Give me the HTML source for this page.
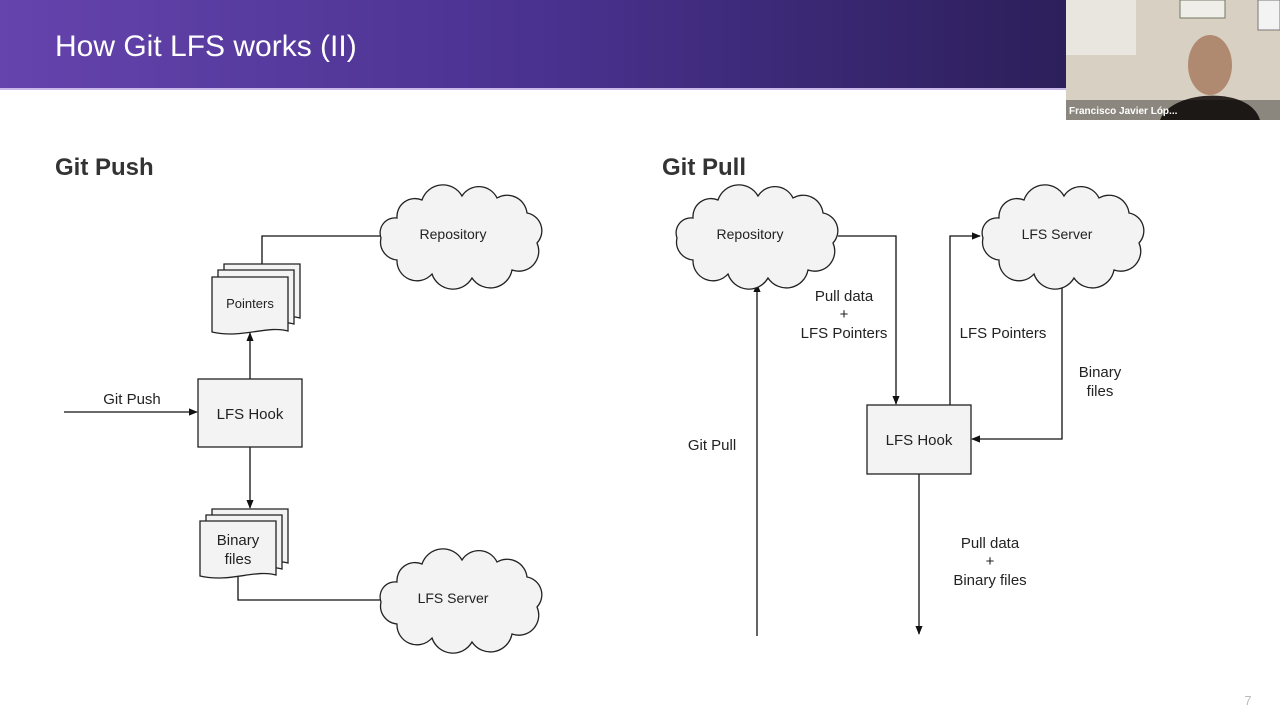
<!DOCTYPE html>
<html><head><meta charset="utf-8"><style>
html,body{margin:0;padding:0;width:1280px;height:720px;overflow:hidden;background:#fff;font-family:"Liberation Sans",sans-serif}
</style></head><body>
<svg width="1280" height="720" viewBox="0 0 1280 720" xmlns="http://www.w3.org/2000/svg" font-family="Liberation Sans, sans-serif">
<defs>
<linearGradient id="hg" x1="0" x2="1" y1="0" y2="0">
<stop offset="0" stop-color="#6544ad"/><stop offset="0.5" stop-color="#4a3290"/><stop offset="1" stop-color="#2c1f5a"/>
</linearGradient>
<marker id="ar" viewBox="0 0 10 10" refX="9" refY="5" markerWidth="7" markerHeight="7" orient="auto"><path d="M0,1 L10,5 L0,9 Z" fill="#111"/></marker>
<path id="cloud" d="M20,30 A18,18 0 0 1 45,12 A22,22 0 0 1 85,8 A20,20 0 0 1 120,10 A20,20 0 0 1 150,25 A18,18 0 0 1 160,55 A20,20 0 0 1 135,82 A22,22 0 0 1 95,90 A22,22 0 0 1 55,86 A20,20 0 0 1 20,72 A18,18 0 0 1 4,50 A15,15 0 0 1 20,30 Z" fill="#f3f3f3" stroke="#222" stroke-width="1.3"/>
<path id="doc" d="M0,0 H76 V54 C55,48 30,62 0,55 Z" fill="#f3f3f3" stroke="#222" stroke-width="1.3"/>
</defs>
<rect x="0" y="0" width="1066" height="89" fill="url(#hg)"/>
<rect x="0" y="88" width="1066" height="2" fill="#c9b8ea"/>
<text x="55" y="56" fill="#fff" font-size="30">How Git LFS works (II)</text>
<!-- webcam -->
<rect x="1066" y="0" width="214" height="120" fill="#d8d0c2"/>
<rect x="1066" y="0" width="70" height="55" fill="#e9e6df"/>
<rect x="1180" y="0" width="45" height="18" fill="#efeee8" stroke="#776" />
<rect x="1258" y="0" width="22" height="30" fill="#f3f3f3" stroke="#777"/>
<ellipse cx="1210" cy="65" rx="22" ry="30" fill="#b08a70"/>
<path d="M1160,120 C1170,90 1250,85 1260,120 Z" fill="#2a2522"/>
<rect x="1066" y="100" width="214" height="20" fill="rgba(0,0,0,0.35)"/>
<text x="1069" y="114" fill="#fff" font-size="10" font-weight="bold">Francisco Javier Lóp...</text>
<text x="55" y="175" fill="#333" font-size="24" font-weight="bold">Git Push</text>
<text x="662" y="175" fill="#333" font-size="24" font-weight="bold">Git Pull</text>
<g stroke="#111" stroke-width="1.3" fill="none">
<!-- left -->
<polyline points="262,264 262,236 380,236"/>
<line x1="250" y1="379" x2="250" y2="333" marker-end="url(#ar)"/>
<line x1="64" y1="412" x2="197" y2="412" marker-end="url(#ar)"/>
<line x1="250" y1="447" x2="250" y2="508" marker-end="url(#ar)"/>
<polyline points="238,576 238,600 380,600"/>
<!-- right -->
<polyline points="838,236 896,236 896,404" marker-end="url(#ar)"/>
<line x1="757" y1="636" x2="757" y2="284" marker-end="url(#ar)"/>
<polyline points="950,405 950,236 980,236" marker-end="url(#ar)"/>
<polyline points="1062,282 1062,439 972,439" marker-end="url(#ar)"/>
<line x1="919" y1="474" x2="919" y2="634" marker-end="url(#ar)"/>
</g>
<use href="#cloud" transform="translate(377,188)"/>
<use href="#cloud" transform="translate(377,552)"/>
<use href="#cloud" transform="translate(673,188)"/>
<use href="#cloud" transform="translate(979,188)"/>
<g font-size="14" fill="#222" text-anchor="middle">
<text x="453" y="239">Repository</text>
<text x="453" y="603">LFS Server</text>
<text x="750" y="239">Repository</text>
<text x="1057" y="239">LFS Server</text>
</g>
<use href="#doc" transform="translate(224,264)"/>
<use href="#doc" transform="translate(218,270)"/>
<use href="#doc" transform="translate(212,277)"/>
<text x="250" y="308" font-size="13" fill="#222" text-anchor="middle">Pointers</text>
<use href="#doc" transform="translate(212,509)"/>
<use href="#doc" transform="translate(206,515)"/>
<use href="#doc" transform="translate(200,521)"/>
<text x="238" y="545" font-size="15" fill="#222" text-anchor="middle">Binary</text>
<text x="238" y="564" font-size="15" fill="#222" text-anchor="middle">files</text>
<rect x="198" y="379" width="104" height="68" fill="#f3f3f3" stroke="#222" stroke-width="1.3"/>
<rect x="867" y="405" width="104" height="69" fill="#f3f3f3" stroke="#222" stroke-width="1.3"/>
<g font-size="15" fill="#222" text-anchor="middle">
<text x="250" y="419">LFS Hook</text>
<text x="919" y="445">LFS Hook</text>
<text x="132" y="404">Git Push</text>
<text x="844" y="301">Pull data</text>
<text x="844" y="319">+</text>
<text x="844" y="338">LFS Pointers</text>
<text x="712" y="450">Git Pull</text>
<text x="1003" y="338">LFS Pointers</text>
<text x="1100" y="377">Binary</text>
<text x="1100" y="396">files</text>
<text x="990" y="548">Pull data</text>
<text x="990" y="566">+</text>
<text x="990" y="585">Binary files</text>
</g>
<text x="1248" y="705" font-size="13" fill="#bbb" text-anchor="middle">7</text>
</svg>
</body></html>
